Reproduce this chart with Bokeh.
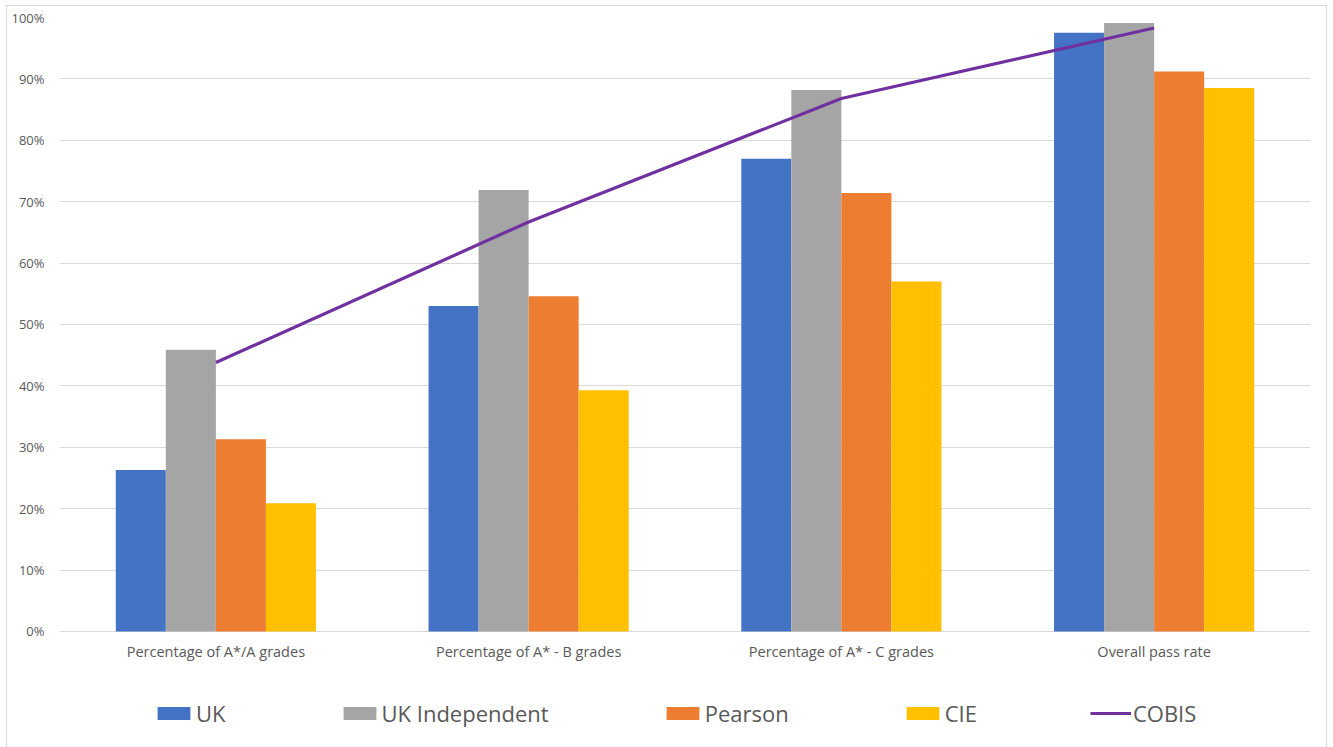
from bokeh.plotting import figure
from bokeh.models import (ColumnDataSource, FactorRange, Range1d, FixedTicker,
                          NumeralTickFormatter, Legend, LegendItem)
from bokeh.core.properties import value
from bokeh.transform import dodge
from bokeh.embed import file_html
from bokeh.resources import INLINE

categories = ["Percentage of A*/A grades", "Percentage of A* - B grades",
              "Percentage of A* - C grades", "Overall pass rate"]
uk = [0.263, 0.530, 0.770, 0.975]
uk_independent = [0.459, 0.719, 0.882, 0.991]
pearson = [0.313, 0.546, 0.714, 0.912]
cie = [0.209, 0.393, 0.570, 0.885]
cobis = [0.438, 0.667, 0.868, 0.983]
y_ticks = [0, 0.1, 0.2, 0.3, 0.4, 0.5, 0.6, 0.7, 0.8, 0.9, 1.0]

src = ColumnDataSource(dict(cat=categories, uk=uk, uki=uk_independent,
                            pearson=pearson, cie=cie, cobis=cobis,
                            lab_y=[-0.032] * len(categories)))

FONT = "Open Sans"
TXT = "#595959"

# frame extends below 0% so the legend can live inside the plot area
p = figure(width=1321, height=742, x_range=FactorRange(*categories),
           y_range=Range1d(-0.1906, 1), output_backend="svg",
           toolbar_location=None, x_axis_location=None,
           min_border_left=52, min_border_right=18, min_border_top=11,
           min_border_bottom=0)
p.styles = {"margin-left": "6px", "margin-top": "5px",
            "border-left": "1px solid #d9d9d9",
            "border-top": "1px solid #d9d9d9",
            "border-right": "1px solid #d9d9d9"}
p.outline_line_color = None
p.background_fill_color = "white"
p.border_fill_color = "white"

W = 0.16
r_uk = p.vbar(x=dodge("cat", -0.24, range=p.x_range), top="uk", width=W,
              source=src, fill_color="#4472C4", line_color=None)
r_uki = p.vbar(x=dodge("cat", -0.08, range=p.x_range), top="uki", width=W,
               source=src, fill_color="#A5A5A5", line_color=None)
r_pe = p.vbar(x=dodge("cat", 0.08, range=p.x_range), top="pearson", width=W,
              source=src, fill_color="#ED7D31", line_color=None)
r_cie = p.vbar(x=dodge("cat", 0.24, range=p.x_range), top="cie", width=W,
               source=src, fill_color="#FFC000", line_color=None)
r_co = p.line(x="cat", y="cobis", source=src, line_color="#7030A0",
              line_width=3.2)

# category labels under the bars
p.text(x="cat", y="lab_y", text="cat", source=src, text_align="center",
       text_baseline="middle", text_font=value(FONT),
       text_font_size="14.5px", text_color=TXT)

p.xgrid.visible = False
p.ygrid.grid_line_color = "#D9D9D9"
p.ygrid.grid_line_width = 1

p.yaxis.ticker = FixedTicker(ticks=y_ticks)
p.yaxis.formatter = NumeralTickFormatter(format="0%")
ax = p.yaxis[0]
ax.axis_line_color = None
ax.major_tick_line_color = None
ax.minor_tick_line_color = None
ax.major_tick_out = 0
ax.major_label_text_color = TXT
ax.major_label_text_font = FONT
ax.major_label_text_font_size = "13px"
ax.major_label_standoff = 15

legend = Legend(items=[
    LegendItem(label="UK", renderers=[r_uk]),
    LegendItem(label="UK Independent", renderers=[r_uki]),
    LegendItem(label="Pearson", renderers=[r_pe]),
    LegendItem(label="CIE", renderers=[r_cie]),
    LegendItem(label="COBIS", renderers=[r_co]),
], orientation="horizontal", location=(94, 20), spacing=113,
    glyph_width=41, glyph_height=16, label_standoff=2,
    label_text_font=FONT, label_text_font_size="22px", label_text_color=TXT,
    label_height=22, border_line_color=None, background_fill_alpha=0,
    padding=0, margin=0)
p.add_layout(legend)

open("out.html", "w").write(file_html(p, INLINE))
